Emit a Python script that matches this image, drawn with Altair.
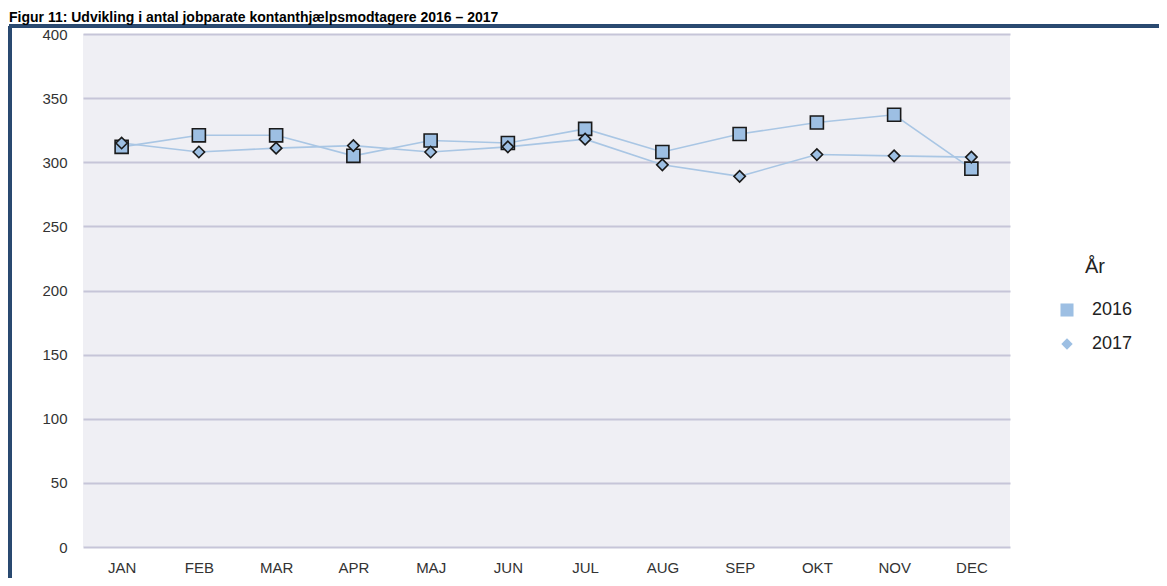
import altair as alt
import pandas as pd

months = ["JAN", "FEB", "MAR", "APR", "MAJ", "JUN", "JUL", "AUG", "SEP", "OKT", "NOV", "DEC"]
v2016 = [312, 321, 321, 305, 317, 315, 326, 308, 322, 331, 337, 295]
v2017 = [315, 308, 311, 313, 308, 312, 318, 298, 289, 306, 305, 304]
years = ["2016", "2017"]
title_text = "Figur 11: Udvikling i antal jobparate kontanthjælpsmodtagere 2016 – 2017"

rows = []
for m, a, b in zip(months, v2016, v2017):
    rows.append({"month": m, "year": years[0], "value": a})
    rows.append({"month": m, "year": years[1], "value": b})
df = pd.DataFrame(rows)

FONT = "Liberation Sans"
blue = "#9dbfe3"

x = alt.X("month:N", sort=months, title=None,
          scale=alt.Scale(type="point", padding=0.5),
          axis=alt.Axis(labelAngle=0, domain=False, ticks=False, labelPadding=13,
                        labelFontSize=15, labelColor="#333333", labelFont=FONT))
y = alt.Y("value:Q", title=None,
          scale=alt.Scale(domain=[0, 400], nice=False),
          axis=alt.Axis(values=list(range(0, 401, 50)), domain=False, ticks=False,
                        labelPadding=16, labelFontSize=15, labelColor="#333333",
                        labelFont=FONT, gridColor="#c6c5d8", gridWidth=2))

lines = alt.Chart(df).mark_line(color="#a9c6e4", strokeWidth=1.6).encode(
    x=x, y=y, detail="year:N")

points = alt.Chart(df).mark_point(filled=True, stroke="#1a1a1a", strokeWidth=1.6, opacity=1).encode(
    x=x, y=y,
    color=alt.Color("year:N", scale=alt.Scale(domain=years, range=[blue, blue]),
                    legend=alt.Legend(title="År")),
    shape=alt.Shape("year:N", scale=alt.Scale(domain=years, range=["square", "diamond"]),
                    legend=alt.Legend(title="År")),
    size=alt.Size("year:N", scale=alt.Scale(domain=years, range=[170, 130]), legend=None),
)

frame_left = alt.Chart(df).mark_rule(color="#2b4a70", strokeWidth=2.5).encode(
    x=alt.value(-73), y=alt.value(-8), y2=alt.value(600))
frame_top = alt.Chart(df).mark_rule(color="#2b4a70", strokeWidth=2.5).encode(
    x=alt.value(-74), x2=alt.value(1100), y=alt.value(-8))
title = alt.Chart(pd.DataFrame({"t": [title_text]})).mark_text(
    align="left", baseline="alphabetic", fontSize=14, fontWeight="bold", font=FONT,
    color="#000000").encode(text="t:N", x=alt.value(-74), y=alt.value(-12))

chart = alt.layer(frame_left, frame_top, title, lines, points).properties(
    width=927, height=513,
    autosize=alt.AutoSizeParams(type="none"),
    padding={"left": 75, "top": 26, "right": 149, "bottom": 31},
    background="white",
).configure_view(fill="#efeff4", stroke=None).configure_legend(
    orient="none", legendX=975, legendY=223,
    titleFontSize=20, titleFont=FONT, titleFontWeight="normal", titleColor="#222222",
    titleAnchor="middle", labelFontSize=18, labelFont=FONT, labelColor="#222222",
    symbolSize=180, symbolStrokeWidth=0, symbolFillColor=blue, rowPadding=16,
    titlePadding=24, labelOffset=16,
)

chart.save("out.html", embed_options={"renderer": "svg", "actions": False})
